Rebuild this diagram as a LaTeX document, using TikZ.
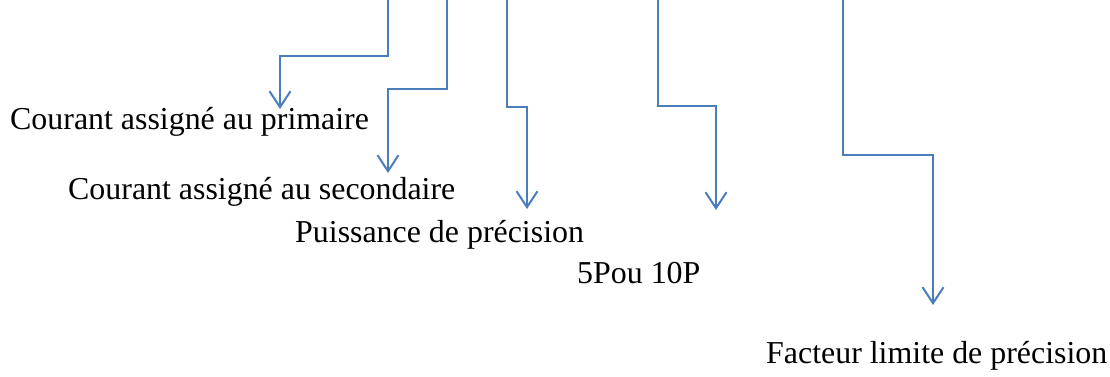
\documentclass[tikz,border=0pt]{standalone}
\usepackage{fontspec}
\setmainfont{Liberation Serif}
\usetikzlibrary{arrows.meta}
\definecolor{linkblue}{HTML}{4A7EBB}
\tikzset{
  link/.style={draw=linkblue, line width=2pt, -{Straight Barb[length=16pt,width=21pt,line width=2pt]}},
  lbl/.style={anchor=base west, inner sep=0pt, font=\fontsize{31.9}{38}\selectfont}
}
\begin{document}
\begin{tikzpicture}[x=1pt,y=-1pt]
\useasboundingbox (0,0) rectangle (1110,376);
% labels
\node[lbl] (prim) at (10,129) {Courant assigné au primaire};
\node[lbl] (sec) at (68,199) {Courant assigné au secondaire};
\node[lbl] (puis) at (295,242) {Puissance de précision};
\node[lbl] (cls) at (577,283) {5Pou 10P};
\node[lbl] (fact) at (766,363) {Facteur limite de précision};
% start / tip coordinates
\coordinate (s1) at (388,0);  \coordinate (t1) at (280,109);
\coordinate (s2) at (447,0);  \coordinate (t2) at (388,173);
\coordinate (s3) at (507,0);  \coordinate (t3) at (527,209);
\coordinate (s4) at (658,0);  \coordinate (t4) at (716,210);
\coordinate (s5) at (843,0);  \coordinate (t5) at (933,305);
% connectors
\draw[link] (s1) -- (388,56) -- (280,56) -- (t1);
\draw[link] (s2) -- (447,89) -- (388,89) -- (t2);
\draw[link] (s3) -- (507,107) -- (527,107) -- (t3);
\draw[link] (s4) -- (658,106) -- (716,106) -- (t4);
\draw[link] (s5) -- (843,155) -- (933,155) -- (t5);
\end{tikzpicture}
\end{document}
